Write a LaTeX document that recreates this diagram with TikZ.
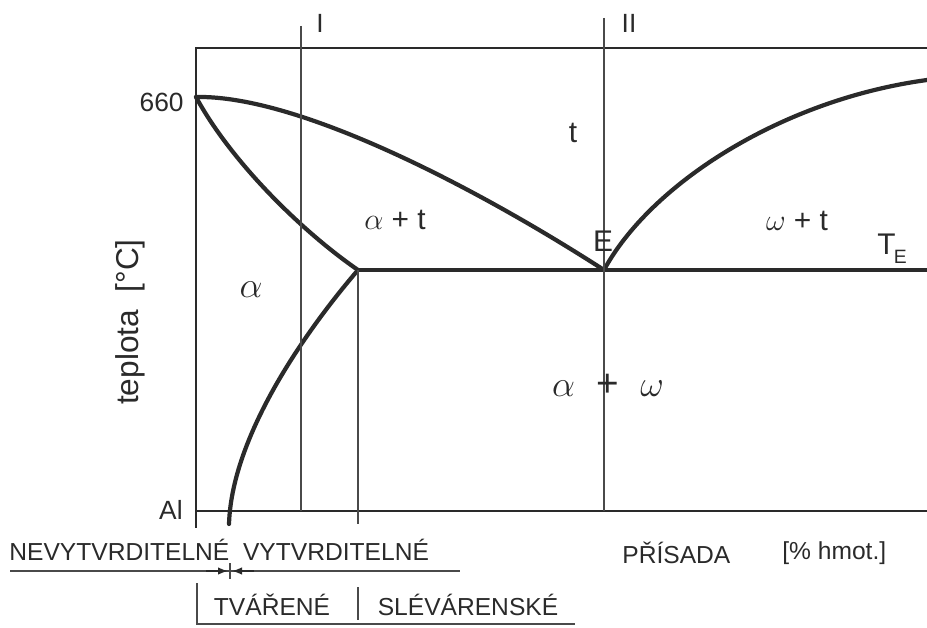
\documentclass[tikz,border=0pt]{standalone}
\usepackage{fontspec}
\setmainfont{Liberation Sans}
\usetikzlibrary{arrows.meta}
\definecolor{cInk}{HTML}{2A2A2A}
\definecolor{cGuide}{HTML}{4A4A4A}
\tikzset{
  frame/.style={draw=cInk, line width=1.6pt},
  phase/.style={draw=cInk, line width=2.4pt, line cap=round},
  guide/.style={draw=cGuide, line width=0.85pt},
  lbl/.style={font=\fontsize{14}{16}\selectfont, text=cInk, inner sep=0pt},
  region/.style={font=\fontsize{17}{19}\selectfont, text=cInk, inner sep=0pt},
  pointer/.style={-{Latex[length=2mm,width=1.5mm]}, draw=cInk, line width=0.8pt},
}

\begin{document}
\begin{tikzpicture}[x=0.02cm, y=-0.02cm]
\useasboundingbox (0,0) rectangle (927,628);

% ========== AXES ==========
\coordinate (axTR) at (927,48);
\coordinate (axBL) at (196,528);
\coordinate (axB0) at (196,511);
\coordinate (axBR) at (927,511);
\draw[frame] (axTR) -| (axBL);
\draw[frame] (axB0) -- (axBR);

\node[lbl, font=\fontsize{15}{17}\selectfont, anchor=east] (t660) at (184,102) {660};
\node[lbl, font=\fontsize{15}{17}\selectfont, anchor=east] (tAl) at (183,510) {Al};
\node[lbl, font=\fontsize{18}{20}\selectfont, rotate=90] (yLbl) at (130,322) {teplota\ \ [°C]};
\node[lbl, anchor=west] (xLbl) at (622,553) {PŘÍSADA};
\node[lbl, anchor=west] (xUnit) at (782,553) {[\% hmot.]};

% ========== PHASE LINES ==========
\coordinate (tm)  at (196,97);   % melting point
\coordinate (mx)  at (358,270);  % max. solubility
\coordinate (Ept) at (604,270);  % eutectic
\coordinate (sv)  at (229,524);
\coordinate (rl)  at (927,80);
\coordinate (teR) at (927,270);

\draw[phase] (tm) .. controls (300,95) and (480,190) .. (Ept);
\draw[phase] (tm) .. controls (230,160) and (300,230) .. (mx);
\draw[phase] (mx) .. controls (315,320) and (232,430) .. (sv);
\draw[phase] (Ept) .. controls (650,185) and (780,100) .. (rl);
\draw[phase] (mx) -- (teR);

% ========== ALLOY LINES I, II ==========
\coordinate (g1t) at (301,26);  \coordinate (g1b) at (301,511);
\coordinate (g2t) at (604,18);  \coordinate (g2b) at (604,511);
\coordinate (g3b) at (358,524);
\draw[guide] (g1t) -- (g1b);
\draw[guide] (g2t) -- (g2b);
\draw[guide] (mx) -- (g3b);
\node[lbl, font=\fontsize{15}{17}\selectfont] (lI)  at (320,23) {I};
\node[lbl, font=\fontsize{15}{17}\selectfont] (lII) at (629,23) {II};

% ========== REGION LABELS ==========
\node[region] (rT)   at (573,133) {t};
\node[region] (rAT)  at (395,220) {$\alpha$ + t};
\node[region, font=\fontsize{21}{23}\selectfont] (rA) at (251,290) {$\alpha$};
\node[region, font=\fontsize{22}{24}\selectfont] (rAW) at (608,385) {$\alpha$ \ + \ $\omega$};
\node[region] (rWT)  at (797,221) {$\omega$ + t};
\node[region] (rE)   at (603,241) {E};
\node[region] (rTE)  at (892,249) {T\kern-1pt\raisebox{-0.55ex}{\fontsize{11}{12}\selectfont E}};

% ========== ALLOY GROUPS ==========
\node[lbl, anchor=west] (nev) at (9,550) {NEVYTVRDITELNÉ\ \ VYTVRDITELNÉ};
\coordinate (ulL) at (10,571);  \coordinate (ulR) at (460,571);
\draw[guide] (ulL) -- (ulR);
\coordinate (tkT) at (230,563); \coordinate (tkB) at (230,579);
\draw[guide] (tkT) -- (tkB);
\coordinate (pL) at (206,571); \coordinate (pLe) at (228,571);
\coordinate (pR) at (254,571); \coordinate (pRe) at (232,571);
\draw[pointer] (pL) -- (pLe);
\draw[pointer] (pR) -- (pRe);

\coordinate (bxT) at (197,583);  \coordinate (bxB) at (197,624);
\coordinate (bxR) at (575,624);
\draw[guide] (bxT) |- (bxR);
\coordinate (sepT) at (358,587); \coordinate (sepB) at (358,620);
\draw[guide] (sepT) -- (sepB);
\node[lbl] (tvar) at (272,605) {TVÁŘENÉ};
\node[lbl] (slev) at (468,605) {SLÉVÁRENSKÉ};

\end{tikzpicture}
\end{document}
